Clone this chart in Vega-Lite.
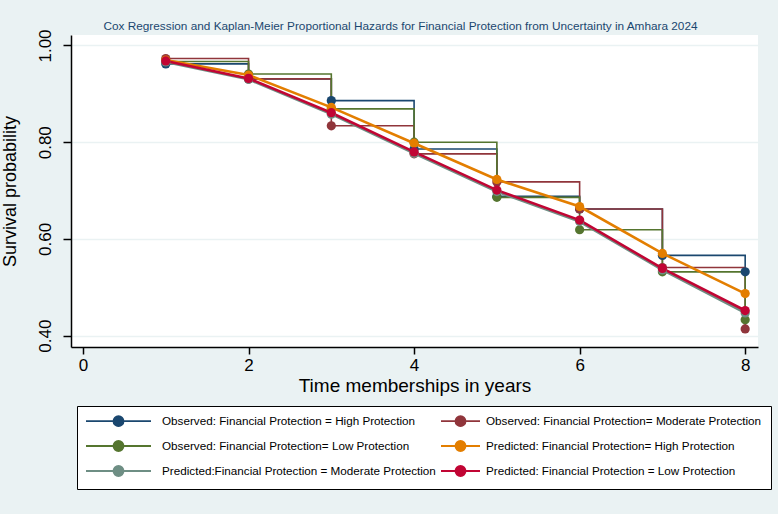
{
  "$schema": "https://vega.github.io/schema/vega-lite/v6.json",
  "autosize": "none",
  "width": 687,
  "height": 312,
  "padding": {"left": 71, "top": 35, "right": 20, "bottom": 167},
  "background": "#eaf2f3",
  "title": {
    "text": "Cox Regression and Kaplan-Meier Proportional Hazards for Financial Protection from Uncertainty in Amhara 2024",
    "font": "Liberation Sans",
    "fontSize": 11.8,
    "fontWeight": "normal",
    "color": "#1a476f",
    "anchor": "middle",
    "dx": -14,
    "offset": -4
  },
  "data": {
    "values": [
      {"series": "Observed: Financial Protection = High Protection", "kind": "Observed", "t": 1, "s": 0.962},
      {"series": "Observed: Financial Protection = High Protection", "kind": "Observed", "t": 2, "s": 0.931},
      {"series": "Observed: Financial Protection = High Protection", "kind": "Observed", "t": 3, "s": 0.886},
      {"series": "Observed: Financial Protection = High Protection", "kind": "Observed", "t": 4, "s": 0.786},
      {"series": "Observed: Financial Protection = High Protection", "kind": "Observed", "t": 5, "s": 0.688},
      {"series": "Observed: Financial Protection = High Protection", "kind": "Observed", "t": 6, "s": 0.662},
      {"series": "Observed: Financial Protection = High Protection", "kind": "Observed", "t": 7, "s": 0.566},
      {"series": "Observed: Financial Protection = High Protection", "kind": "Observed", "t": 8, "s": 0.532},
      {"series": "Observed: Financial Protection= Moderate Protection", "kind": "Observed", "t": 1, "s": 0.973},
      {"series": "Observed: Financial Protection= Moderate Protection", "kind": "Observed", "t": 2, "s": 0.931},
      {"series": "Observed: Financial Protection= Moderate Protection", "kind": "Observed", "t": 3, "s": 0.834},
      {"series": "Observed: Financial Protection= Moderate Protection", "kind": "Observed", "t": 4, "s": 0.776},
      {"series": "Observed: Financial Protection= Moderate Protection", "kind": "Observed", "t": 5, "s": 0.718},
      {"series": "Observed: Financial Protection= Moderate Protection", "kind": "Observed", "t": 6, "s": 0.662},
      {"series": "Observed: Financial Protection= Moderate Protection", "kind": "Observed", "t": 7, "s": 0.541},
      {"series": "Observed: Financial Protection= Moderate Protection", "kind": "Observed", "t": 8, "s": 0.414},
      {"series": "Observed: Financial Protection= Low Protection", "kind": "Observed", "t": 1, "s": 0.967},
      {"series": "Observed: Financial Protection= Low Protection", "kind": "Observed", "t": 2, "s": 0.941},
      {"series": "Observed: Financial Protection= Low Protection", "kind": "Observed", "t": 3, "s": 0.869},
      {"series": "Observed: Financial Protection= Low Protection", "kind": "Observed", "t": 4, "s": 0.8},
      {"series": "Observed: Financial Protection= Low Protection", "kind": "Observed", "t": 5, "s": 0.686},
      {"series": "Observed: Financial Protection= Low Protection", "kind": "Observed", "t": 6, "s": 0.619},
      {"series": "Observed: Financial Protection= Low Protection", "kind": "Observed", "t": 7, "s": 0.532},
      {"series": "Observed: Financial Protection= Low Protection", "kind": "Observed", "t": 8, "s": 0.433},
      {"series": "Predicted: Financial Protection= High Protection", "kind": "Predicted", "t": 1, "s": 0.97},
      {"series": "Predicted: Financial Protection= High Protection", "kind": "Predicted", "t": 2, "s": 0.939},
      {"series": "Predicted: Financial Protection= High Protection", "kind": "Predicted", "t": 3, "s": 0.872},
      {"series": "Predicted: Financial Protection= High Protection", "kind": "Predicted", "t": 4, "s": 0.798},
      {"series": "Predicted: Financial Protection= High Protection", "kind": "Predicted", "t": 5, "s": 0.723},
      {"series": "Predicted: Financial Protection= High Protection", "kind": "Predicted", "t": 6, "s": 0.667},
      {"series": "Predicted: Financial Protection= High Protection", "kind": "Predicted", "t": 7, "s": 0.57},
      {"series": "Predicted: Financial Protection= High Protection", "kind": "Predicted", "t": 8, "s": 0.487},
      {"series": "Predicted:Financial Protection = Moderate Protection", "kind": "Predicted", "t": 1, "s": 0.966},
      {"series": "Predicted:Financial Protection = Moderate Protection", "kind": "Predicted", "t": 2, "s": 0.93},
      {"series": "Predicted:Financial Protection = Moderate Protection", "kind": "Predicted", "t": 3, "s": 0.858},
      {"series": "Predicted:Financial Protection = Moderate Protection", "kind": "Predicted", "t": 4, "s": 0.777},
      {"series": "Predicted:Financial Protection = Moderate Protection", "kind": "Predicted", "t": 5, "s": 0.698},
      {"series": "Predicted:Financial Protection = Moderate Protection", "kind": "Predicted", "t": 6, "s": 0.636},
      {"series": "Predicted:Financial Protection = Moderate Protection", "kind": "Predicted", "t": 7, "s": 0.536},
      {"series": "Predicted:Financial Protection = Moderate Protection", "kind": "Predicted", "t": 8, "s": 0.447},
      {"series": "Predicted: Financial Protection = Low Protection", "kind": "Predicted", "t": 1, "s": 0.968},
      {"series": "Predicted: Financial Protection = Low Protection", "kind": "Predicted", "t": 2, "s": 0.932},
      {"series": "Predicted: Financial Protection = Low Protection", "kind": "Predicted", "t": 3, "s": 0.861},
      {"series": "Predicted: Financial Protection = Low Protection", "kind": "Predicted", "t": 4, "s": 0.78},
      {"series": "Predicted: Financial Protection = Low Protection", "kind": "Predicted", "t": 5, "s": 0.701},
      {"series": "Predicted: Financial Protection = Low Protection", "kind": "Predicted", "t": 6, "s": 0.639},
      {"series": "Predicted: Financial Protection = Low Protection", "kind": "Predicted", "t": 7, "s": 0.539},
      {"series": "Predicted: Financial Protection = Low Protection", "kind": "Predicted", "t": 8, "s": 0.452}
    ]
  },
  "encoding": {
    "x": {
      "field": "t",
      "type": "quantitative",
      "title": "Time memberships in years",
      "scale": {"domain": [-0.145, 8.155], "nice": false, "zero": false},
      "axis": {
        "values": [0, 2, 4, 6, 8],
        "grid": false,
        "tickSize": 7,
        "labelPadding": 3,
        "labelFontSize": 17,
        "titleFontSize": 19,
        "titlePadding": 3
      }
    },
    "y": {
      "field": "s",
      "type": "quantitative",
      "title": "Survival probability",
      "scale": {"domain": [0.3766, 1.0217], "nice": false, "zero": false},
      "axis": {
        "values": [0.4, 0.6, 0.8, 1.0],
        "format": ".2f",
        "grid": true,
        "gridColor": "#eaf2f3",
        "gridWidth": 1.5,
        "tickSize": 8,
        "labelAngle": -90,
        "labelAlign": "center",
        "labelBaseline": "bottom",
        "labelPadding": 9,
        "labelFontSize": 17,
        "titleFontSize": 18,
        "titlePadding": 17
      }
    },
    "color": {
      "field": "series",
      "type": "nominal",
      "sort": null,
      "scale": {
        "domain": [
          "Observed: Financial Protection = High Protection",
          "Observed: Financial Protection= Moderate Protection",
          "Observed: Financial Protection= Low Protection",
          "Predicted: Financial Protection= High Protection",
          "Predicted:Financial Protection = Moderate Protection",
          "Predicted: Financial Protection = Low Protection"
        ],
        "range": ["#1a476f", "#90353b", "#55752f", "#e37e00", "#6e8e84", "#c10534"]
      },
      "legend": {
        "title": null,
        "orient": "none",
        "direction": "horizontal",
        "legendX": 6,
        "legendY": 371,
        "columns": 2,
        "columnPadding": 1,
        "rowPadding": 7,
        "padding": 9,
        "fillColor": "white",
        "strokeColor": "black",
        "labelFont": "Liberation Sans",
        "labelFontSize": 11.7,
        "labelColor": "black",
        "labelLimit": 0,
        "symbolSize": 100,
        "encode": {
          "symbols": {
            "update": {
              "shape": {"signal": "datum.index % 2 === 0 ? 'M-6.5,0H6.5M1,0A1,1 0 1,1 -1,0A1,1 0 1,1 1,0Z' : 'M-3.9,0H3.9M1,0A1,1 0 1,1 -1,0A1,1 0 1,1 1,0Z'"},
              "x": {"signal": "datum.index % 2 === 0 ? 32.5 : 19.5"},
              "fill": {"scale": "color", "field": "value"},
              "stroke": {"scale": "color", "field": "value"},
              "strokeWidth": {"value": 1.8},
              "opacity": {"value": 1}
            }
          },
          "labels": {
            "update": {
              "x": {"signal": "datum.index % 2 === 0 ? 76 : 45"}
            }
          }
        }
      }
    }
  },
  "layer": [
    {
      "transform": [{"filter": "datum.kind == 'Observed'"}],
      "mark": {"type": "line", "interpolate": "step-after", "strokeWidth": 1.6}
    },
    {
      "transform": [{"filter": "datum.kind == 'Observed'"}],
      "mark": {"type": "point", "filled": true, "shape": "circle", "size": 85, "opacity": 1}
    },
    {
      "transform": [{"filter": "datum.kind == 'Predicted'"}],
      "mark": {"type": "line", "strokeWidth": 2.6}
    },
    {
      "transform": [{"filter": "datum.kind == 'Predicted'"}],
      "mark": {"type": "point", "filled": true, "shape": "circle", "size": 85, "opacity": 1}
    }
  ],
  "config": {
    "font": "Liberation Sans",
    "view": {"fill": "white", "stroke": null},
    "axis": {
      "domainColor": "black",
      "domainWidth": 1.5,
      "tickColor": "black",
      "tickWidth": 1.5,
      "labelColor": "black",
      "titleColor": "black",
      "titleFontWeight": "normal",
      "labelFont": "Liberation Sans",
      "titleFont": "Liberation Sans"
    }
  }
}
